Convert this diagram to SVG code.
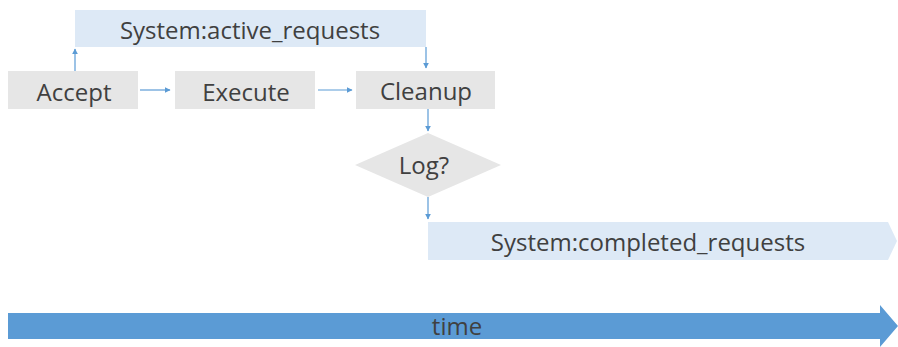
<svg xmlns="http://www.w3.org/2000/svg" width="898" height="347" viewBox="0 0 898 347">
<style>
.box{fill:#e6e6e6}
.lb{fill:#dde9f6}
.t{font-family:"Open Sans","Liberation Sans",sans-serif;font-size:24px;fill:#404040;text-anchor:middle;dominant-baseline:central}
.c{stroke:#5b9bd5;stroke-width:1.2;fill:none}
</style>
<defs>
<marker id="ah" viewBox="0 0 10 10" refX="9" refY="5" markerWidth="6" markerHeight="6" orient="auto" markerUnits="userSpaceOnUse">
<path d="M0,0 L10,5 L0,10 z" fill="#5b9bd5"/>
</marker>
</defs>
<rect width="898" height="347" fill="#ffffff"/>
<g id="active">
<rect class="lb" x="75" y="10" width="351" height="37"/>
<text class="t" x="250" y="29">System:active_requests</text>
</g>
<g id="accept">
<rect class="box" x="8" y="71" width="130" height="38"/>
<text class="t" x="74" y="91">Accept</text>
</g>
<g id="execute">
<rect class="box" x="175" y="71" width="140" height="38"/>
<text class="t" x="246" y="91">Execute</text>
</g>
<g id="cleanup">
<rect class="box" x="356" y="71" width="139" height="38"/>
<text class="t" x="426" y="90">Cleanup</text>
</g>
<g id="log">
<polygon class="box" points="428,133 501,165 428,197 355,165"/>
<text class="t" x="424" y="164">Log?</text>
</g>
<g id="completed">
<polygon class="lb" points="428,222 888,222 897,241 888,260 428,260"/>
<text class="t" x="648" y="241">System:completed_requests</text>
</g>
<g id="time">
<polygon fill="#5b9bd5" points="8,313 880,313 880,305 898,326 880,347 880,339 8,339"/>
<text class="t" x="457" y="325" font-size="21" fill="#222a35">time</text>
</g>
<g id="connectors">
<path class="c" d="M75,71 V49" marker-end="url(#ah)"/>
<path class="c" d="M140,90 H170" marker-end="url(#ah)"/>
<path class="c" d="M318,90 H352" marker-end="url(#ah)"/>
<path class="c" d="M426,47 V68" marker-end="url(#ah)"/>
<path class="c" d="M428,109 V131" marker-end="url(#ah)"/>
<path class="c" d="M428,197 V219" marker-end="url(#ah)"/>
</g>
</svg>
